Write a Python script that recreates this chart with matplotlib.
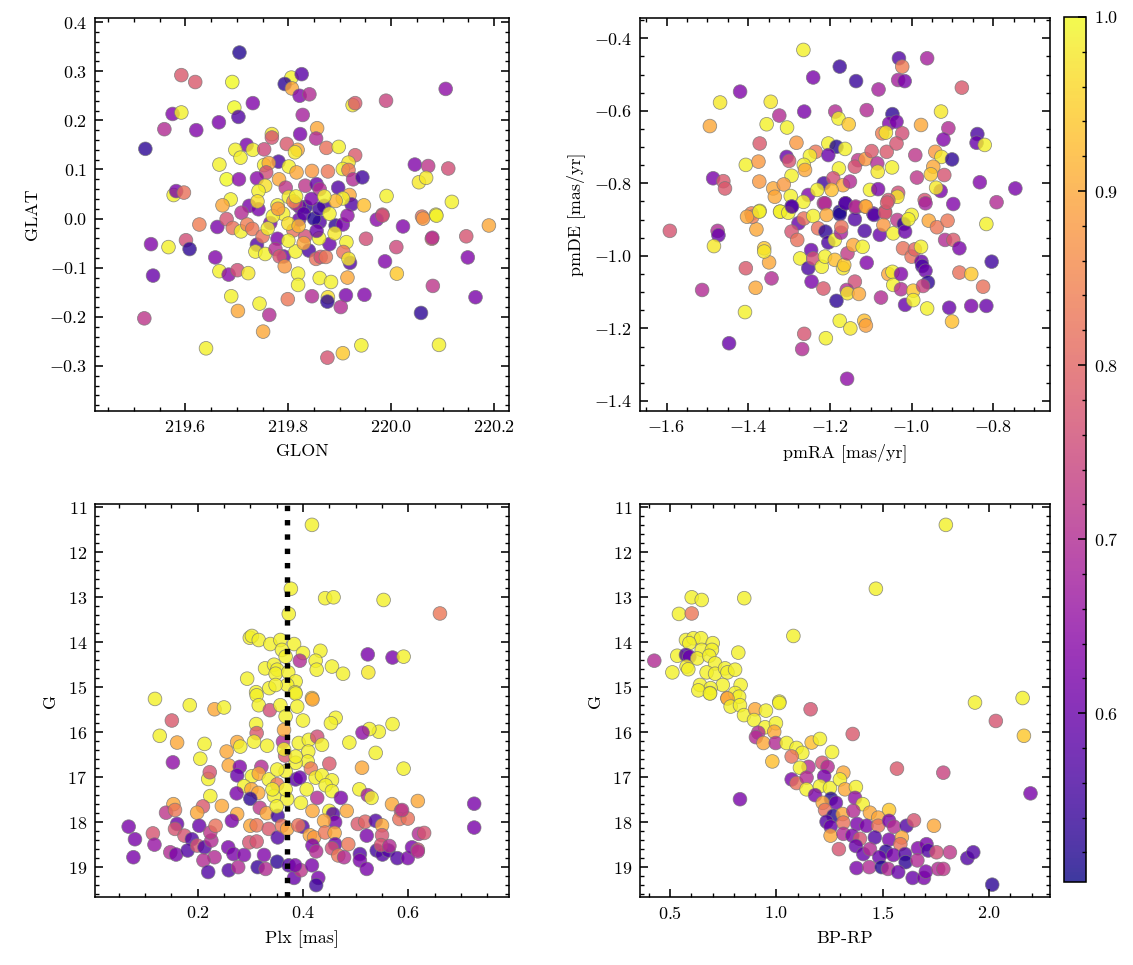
import numpy as np
import matplotlib
matplotlib.use('Agg')
import matplotlib.pyplot as plt
from matplotlib.colors import Normalize

# --- sky positions (GLON, GLAT, membership prob.) ---
glon = [
    219.705, 219.592, 219.619, 219.691, 219.806, 219.826, 219.793, 219.807, 219.822, 219.841,
    220.106, 219.925, 219.930, 219.990, 219.575, 219.592, 219.559, 219.621, 219.665, 219.695,
    219.703, 219.731, 219.828, 219.823, 219.768, 219.768, 219.856, 219.854, 219.522, 219.719,
    219.697, 219.731, 219.753, 219.707, 219.797, 219.818, 219.813, 219.874, 219.898, 219.930,
    219.917, 219.666, 219.781, 219.801, 219.753, 219.762, 219.757, 219.816, 219.846, 219.877,
    219.906, 219.917, 219.926, 219.944, 220.046, 220.072, 220.111, 220.054, 220.068, 219.680,
    219.704, 219.739, 219.755, 219.742, 219.782, 219.795, 219.833, 219.855, 219.861, 219.897,
    219.919, 219.923, 219.947, 219.991, 220.118, 219.577, 219.582, 219.597, 219.688, 219.672,
    219.724, 219.742, 219.834, 219.870, 219.822, 219.779, 219.801, 219.815, 219.906, 219.892,
    220.087, 219.983, 220.060,
    219.627, 219.662, 219.680, 219.692, 219.708, 219.709, 219.720, 219.730, 219.533, 219.567,
    219.601, 219.608, 219.658, 219.537, 219.666, 219.684, 219.701, 219.722, 219.739, 219.736,
    219.755, 219.750, 219.765, 219.779, 219.775, 219.791, 219.783, 219.793, 219.814, 219.810,
    219.821, 219.833, 219.840, 219.854, 219.863, 219.873, 219.861, 219.880, 219.892, 219.906,
    219.913, 219.907, 219.920, 219.917, 219.915, 219.951, 219.972, 219.983, 220.023, 220.062,
    220.088, 220.079, 220.080, 220.146, 220.190, 220.010, 219.988, 220.149, 220.011, 220.081,
    220.164, 219.819, 219.819, 219.861, 219.883, 219.915, 219.689, 219.702, 219.744, 219.763,
    219.799, 219.846, 219.877, 219.876, 219.912, 219.948, 219.902, 220.058, 219.520, 219.640,
    219.751, 219.876, 219.906, 219.942, 220.093,
    219.790, 219.800, 219.770, 219.830, 219.850, 219.860, 219.820, 219.880, 219.890, 219.760,
    219.810, 219.845, 219.870, 219.740, 219.800, 219.830, 219.860, 219.855, 219.780, 219.815]
glat = [
    0.338, 0.292, 0.278, 0.278, 0.287, 0.294, 0.274, 0.265, 0.250, 0.253,
    0.264, 0.231, 0.235, 0.240, 0.213, 0.216, 0.182, 0.180, 0.196, 0.226,
    0.207, 0.235, 0.211, 0.172, 0.172, 0.165, 0.184, 0.163, 0.142, 0.150,
    0.140, 0.140, 0.141, 0.124, 0.152, 0.140, 0.135, 0.144, 0.146, 0.129,
    0.114, 0.110, 0.116, 0.106, 0.109, 0.113, 0.094, 0.094, 0.097, 0.096,
    0.101, 0.099, 0.080, 0.084, 0.110, 0.107, 0.102, 0.074, 0.083, 0.080,
    0.080, 0.082, 0.067, 0.056, 0.080, 0.063, 0.067, 0.070, 0.060, 0.063,
    0.048, 0.029, 0.027, 0.046, 0.034, 0.048, 0.056, 0.053, 0.039, 0.027,
    0.026, 0.019, 0.024, 0.026, 0.024, 0.027, 0.044, 0.030, 0.041, 0.036,
    0.008, 0.008, 0.004,
    -0.012, -0.017, -0.001, -0.019, -0.026, 0.012, -0.012, -0.021, -0.052, -0.058,
    -0.044, -0.062, -0.079, -0.116, -0.107, -0.114, -0.105, -0.111, -0.053, -0.067,
    -0.072, -0.036, -0.009, -0.041, -0.062, -0.077, -0.077, -0.097, -0.067, -0.024,
    -0.002, -0.036, -0.065, -0.082, -0.078, -0.078, -0.007, -0.052, -0.014, -0.012,
    -0.048, -0.068, -0.090, -0.082, 0.006, -0.041, -0.002, 0.006, -0.016, 0.000,
    0.006, -0.041, -0.039, -0.036, -0.014, -0.058, -0.087, -0.079, -0.112, -0.137,
    -0.160, -0.112, -0.135, -0.121, -0.129, -0.120, -0.158, -0.188, -0.173, -0.196,
    -0.164, -0.158, -0.160, -0.169, -0.156, -0.155, -0.180, -0.192, -0.203, -0.264,
    -0.230, -0.283, -0.274, -0.258, -0.257,
    0.010, -0.010, 0.005, 0.010, 0.000, 0.020, -0.015, 0.010, -0.030, -0.020,
    0.035, 0.040, 0.045, 0.035, -0.045, -0.050, -0.040, -0.025, 0.020, 0.045]
prob_sky = [
    0.52, 0.78, 0.78, 1.00, 0.99, 0.58, 0.53, 0.90, 0.63, 0.70,
    0.65, 0.98, 0.78, 0.74, 0.63, 0.99, 0.70, 0.63, 0.62, 1.00,
    0.57, 0.63, 0.68, 0.62, 0.98, 0.77, 0.90, 0.70, 0.53, 0.62,
    0.99, 0.99, 0.75, 0.99, 0.78, 0.90, 0.98, 0.82, 0.99, 0.78,
    0.98, 0.99, 0.56, 0.99, 0.99, 0.90, 0.76, 0.90, 0.88, 0.83,
    0.99, 0.83, 0.70, 0.55, 0.63, 0.72, 0.76, 0.98, 0.98, 1.00,
    0.64, 0.64, 0.97, 0.99, 0.90, 0.72, 0.72, 0.60, 0.70, 0.57,
    0.90, 0.57, 0.93, 0.99, 0.99, 0.99, 0.62, 0.82, 0.99, 0.90,
    0.62, 0.62, 0.53, 0.56, 0.60, 0.99, 0.99, 0.70, 0.99, 0.92,
    0.99, 0.78, 0.82,
    0.84, 0.62, 0.77, 0.82, 0.99, 0.70, 0.84, 0.83, 0.63, 0.99,
    0.76, 0.53, 0.63, 0.60, 0.99, 0.64, 0.76, 0.98, 0.57, 0.99,
    0.99, 0.82, 0.62, 0.62, 0.70, 0.60, 0.78, 0.88, 0.99, 0.82,
    0.60, 0.76, 0.56, 0.82, 0.76, 0.83, 0.57, 0.60, 0.53, 0.62,
    0.99, 0.82, 0.57, 0.98, 0.65, 0.76, 0.64, 0.76, 0.63, 0.88,
    0.99, 0.82, 0.70, 0.77, 0.90, 0.75, 0.63, 0.63, 0.94, 0.72,
    0.62, 0.99, 0.99, 0.99, 0.99, 0.90, 0.99, 0.90, 0.99, 0.70,
    0.83, 0.70, 0.97, 0.53, 0.62, 0.63, 0.70, 0.53, 0.72, 0.99,
    0.90, 0.77, 0.94, 0.99, 0.99,
    0.99, 0.97, 0.99, 0.58, 0.52, 0.55, 0.92, 0.99, 0.98, 0.99,
    0.85, 0.62, 0.99, 0.97, 0.99, 0.90, 0.99, 0.60, 0.88, 0.99]

# --- proper motions ---
pmra = [
    -1.265, -1.031, -1.023, -0.962, -1.176, -1.241, -1.136, -1.081, -1.033, -1.017,
    -0.877, -1.420, -1.469, -1.345, -1.494, -1.324, -1.355, -1.305, -1.263, -1.187,
    -1.179, -1.154, -1.110, -1.047, -1.055, -1.037, -1.023, -1.072, -1.063, -0.928,
    -0.977, -0.910, -0.922, -0.839, -0.841, -0.821, -1.372, -1.282, -1.406, -1.375,
    -1.294, -1.306, -1.300, -1.235, -1.204, -1.184, -1.163, -1.204, -1.249, -1.264,
    -1.261, -1.178, -1.131, -1.139, -1.113, -1.098, -1.084, -1.083, -1.061, -1.048,
    -1.037, -0.991, -0.942, -0.927, -0.901, -0.947, -0.953, -0.920, -0.987, -0.833,
    -0.746, -1.486, -1.461, -1.457, -1.373, -1.339, -1.335, -1.313, -1.296, -1.215,
    -1.192, -1.168, -1.151, -1.196, -1.253, -1.231, -1.102, -1.082, -1.033, -1.035,
    -1.057, -0.929, -0.940, -0.968, -0.966, -0.898, -0.792, -1.372, -1.294, -1.265,
    -1.215, -1.176, -1.162, -1.137, -1.114, -1.094, -1.065, -1.000, -1.392, -1.322,
    -1.592, -1.475, -1.473, -1.484, -1.513, -1.447, -1.408, -1.406, -1.382, -1.343,
    -1.349, -1.361, -1.361, -1.380, -1.390, -1.403, -1.373, -1.322, -1.302, -1.293,
    -1.277, -1.294, -1.280, -1.264, -1.241, -1.273, -1.253, -1.246, -1.241, -1.220,
    -1.245, -1.216, -1.229, -1.211, -1.204, -1.188, -1.212, -1.188, -1.168, -1.165,
    -1.157, -1.212, -1.208, -1.176, -1.162, -1.173, -1.172, -1.139, -1.137, -1.112,
    -1.143, -1.120, -1.115, -1.092, -1.078, -1.065, -1.069, -1.045, -1.035, -1.110,
    -1.139, -1.159, -1.157, -1.129, -1.184, -1.176, -1.150, -1.116, -1.112, -1.075,
    -1.057, -1.047, -1.045, -1.026, -1.026, -1.016, -0.996, -0.996, -0.962, -1.021,
    -1.000, -0.992, -0.977, -0.976, -0.974, -0.966, -0.960, -0.972, -1.019, -1.016,
    -1.008, -0.958, -0.938, -0.912, -0.918, -0.898, -0.883, -0.908, -0.901, -0.883,
    -0.854, -0.854, -0.825, -0.817, -0.804, -0.817, -1.263, -1.268, -1.210, -1.158,
    -1.060]
pmde = [
    -0.432, -0.455, -0.478, -0.455, -0.478, -0.508, -0.518, -0.541, -0.515, -0.518,
    -0.536, -0.547, -0.577, -0.575, -0.642, -0.613, -0.637, -0.646, -0.602, -0.602,
    -0.621, -0.637, -0.598, -0.609, -0.635, -0.630, -0.662, -0.662, -0.660, -0.602,
    -0.639, -0.648, -0.679, -0.664, -0.688, -0.694, -0.690, -0.688, -0.749, -0.740,
    -0.779, -0.727, -0.738, -0.713, -0.690, -0.699, -0.705, -0.722, -0.724, -0.749,
    -0.763, -0.759, -0.736, -0.754, -0.733, -0.711, -0.745, -0.768, -0.713, -0.756,
    -0.690, -0.722, -0.713, -0.727, -0.734, -0.754, -0.775, -0.777, -0.784, -0.797,
    -0.814, -0.786, -0.794, -0.814, -0.795, -0.814, -0.837, -0.803, -0.835, -0.800,
    -0.786, -0.805, -0.795, -0.818, -0.832, -0.818, -0.818, -0.816, -0.826, -0.837,
    -0.846, -0.821, -0.812, -0.846, -0.855, -0.857, -0.852, -0.876, -0.864, -0.851,
    -0.855, -0.878, -0.855, -0.867, -0.864, -0.883, -0.878, -0.887, -0.883, -0.878,
    -0.931, -0.931, -0.943, -0.973, -1.094, -1.241, -1.155, -1.034, -1.088, -1.062,
    -1.018, -0.979, -0.988, -0.927, -0.892, -0.892, -0.878, -0.878, -0.881, -0.864,
    -0.910, -0.933, -0.956, -0.897, -0.890, -1.007, -1.034, -0.984, -1.007, -1.030,
    -1.071, -1.090, -0.924, -0.933, -0.963, -0.956, -1.002, -1.011, -1.034, -1.025,
    -0.993, -0.855, -0.887, -0.885, -0.855, -0.936, -0.920, -0.899, -0.864, -0.864,
    -0.970, -0.975, -0.931, -0.887, -0.942, -0.881, -0.915, -0.938, -0.901, -1.019,
    -1.071, -1.094, -1.103, -1.105, -1.124, -1.179, -1.200, -1.179, -1.192, -1.115,
    -1.050, -1.044, -1.080, -1.050, -1.092, -1.135, -1.096, -1.122, -1.145, -0.979,
    -1.002, -0.982, -0.975, -1.016, -1.028, -1.041, -1.073, -1.083, -0.912, -0.933,
    -0.899, -0.903, -0.921, -0.903, -0.956, -0.956, -0.979, -1.143, -1.181, -1.046,
    -1.050, -1.138, -1.085, -1.138, -1.016, -0.912, -1.215, -1.257, -1.227, -1.339,
    -0.853]
prob_pm = [
    0.99, 0.57, 0.84, 0.68, 0.54, 0.62, 0.54, 0.68, 0.68, 0.62,
    0.78, 0.63, 0.98, 0.98, 0.90, 0.70, 0.99, 0.99, 0.62, 0.70,
    0.99, 0.94, 0.70, 0.53, 0.63, 0.62, 0.76, 0.84, 0.98, 0.98,
    0.90, 0.70, 0.63, 0.56, 0.60, 0.99, 0.78, 0.88, 0.99, 0.88,
    0.99, 0.60, 0.77, 0.83, 0.99, 0.52, 0.99, 0.60, 0.99, 0.99,
    0.90, 0.99, 0.72, 0.77, 0.88, 0.78, 0.70, 0.98, 0.78, 0.99,
    0.77, 0.72, 0.88, 0.98, 0.53, 0.90, 0.94, 0.77, 0.72, 0.63,
    0.62, 0.62, 0.78, 0.78, 0.88, 0.90, 0.90, 0.88, 0.99, 0.55,
    0.76, 0.90, 0.70, 0.93, 0.63, 0.99, 0.99, 0.62, 0.76, 0.98,
    0.77, 0.62, 0.98, 0.77, 0.68, 0.63, 0.70, 0.99, 0.57, 0.99,
    0.70, 0.52, 0.57, 0.70, 0.90, 0.60, 0.77, 0.99, 0.84, 0.99,
    0.77, 0.70, 0.60, 0.98, 0.70, 0.60, 0.99, 0.78, 0.90, 0.70,
    0.90, 0.94, 0.98, 0.90, 0.84, 0.90, 0.99, 0.99, 0.99, 0.57,
    0.60, 0.77, 0.82, 0.82, 0.99, 0.99, 0.56, 0.60, 0.76, 0.99,
    0.62, 0.78, 0.82, 0.53, 0.56, 0.99, 0.99, 0.93, 0.98, 0.94,
    0.73, 0.70, 0.90, 0.52, 0.57, 0.68, 0.82, 0.57, 0.70, 0.90,
    0.90, 0.99, 0.56, 0.57, 0.60, 0.77, 0.88, 0.99, 0.72, 0.63,
    0.76, 0.70, 0.98, 0.90, 0.53, 0.99, 0.98, 0.93, 0.89, 0.70,
    0.90, 0.99, 0.99, 0.63, 0.70, 0.60, 0.94, 0.99, 0.99, 0.82,
    0.82, 0.80, 0.99, 0.60, 0.56, 0.60, 0.53, 0.74, 0.53, 0.60,
    0.99, 0.90, 0.83, 0.83, 0.70, 0.78, 0.62, 0.60, 0.93, 0.82,
    0.94, 0.62, 0.82, 0.60, 0.55, 0.99, 0.77, 0.70, 0.99, 0.65,
    0.78]

# --- parallax vs G ---
plx = [
    0.417, 0.377, 0.442, 0.458, 0.553, 0.660, 0.373, 0.299, 0.303, 0.316,
    0.338, 0.357, 0.383, 0.360, 0.433, 0.400, 0.394, 0.367, 0.424, 0.455,
    0.476, 0.426, 0.523, 0.570, 0.591, 0.524, 0.328, 0.345, 0.351, 0.348,
    0.372, 0.294, 0.386, 0.336, 0.370, 0.311, 0.385, 0.348, 0.119, 0.417,
    0.185, 0.232, 0.250, 0.312, 0.316, 0.337, 0.357, 0.386, 0.389, 0.418,
    0.367, 0.400, 0.462, 0.453, 0.570, 0.544, 0.526, 0.513, 0.151, 0.128,
    0.161, 0.153, 0.213, 0.205, 0.255, 0.275, 0.281, 0.311, 0.312, 0.307,
    0.332, 0.362, 0.364, 0.366, 0.392, 0.411, 0.427, 0.436, 0.410, 0.409,
    0.386, 0.488, 0.538, 0.450, 0.415, 0.512, 0.591, 0.220, 0.223, 0.259,
    0.280, 0.275, 0.321, 0.303, 0.316, 0.335, 0.351, 0.288, 0.302, 0.315,
    0.345, 0.370, 0.386, 0.394, 0.407, 0.424, 0.436, 0.455, 0.443, 0.455,
    0.427, 0.396, 0.224, 0.274, 0.300, 0.318, 0.331, 0.352, 0.350, 0.418,
    0.450, 0.457, 0.461, 0.483, 0.472, 0.507, 0.523, 0.530, 0.569, 0.586,
    0.618, 0.725, 0.725, 0.154, 0.140, 0.157, 0.210, 0.199, 0.246, 0.275,
    0.265, 0.069, 0.081, 0.078, 0.115, 0.118, 0.148, 0.159, 0.161, 0.157,
    0.175, 0.189, 0.181, 0.203, 0.199, 0.213, 0.226, 0.224, 0.234, 0.232,
    0.211, 0.220, 0.258, 0.268, 0.259, 0.288, 0.277, 0.298, 0.312, 0.300,
    0.312, 0.335, 0.352, 0.326, 0.314, 0.329, 0.351, 0.360, 0.370, 0.373,
    0.383, 0.396, 0.385, 0.399, 0.391, 0.413, 0.421, 0.418, 0.425, 0.417,
    0.429, 0.425, 0.440, 0.442, 0.460, 0.461, 0.455, 0.467, 0.478, 0.486,
    0.504, 0.518, 0.538, 0.550, 0.521, 0.550, 0.508, 0.508, 0.521, 0.540,
    0.551, 0.562, 0.548, 0.579, 0.599, 0.607, 0.618, 0.618, 0.564, 0.583,
    0.599, 0.588, 0.620, 0.630,
    0.367, 0.342, 0.367, 0.386, 0.351, 0.364]
g_plx = [
    11.39, 12.81, 13.02, 13.00, 13.06, 13.36, 13.37, 13.90, 13.86, 13.95,
    14.04, 13.95, 14.04, 14.17, 14.19, 14.24, 14.41, 14.32, 14.41, 14.54,
    14.70, 14.61, 14.27, 14.34, 14.32, 14.67, 14.58, 14.50, 14.61, 14.70,
    14.67, 14.81, 14.87, 15.02, 14.95, 15.11, 15.11, 14.95, 15.26, 15.24,
    15.40, 15.49, 15.45, 15.18, 15.40, 15.51, 15.40, 15.14, 15.43, 15.27,
    15.65, 15.74, 15.68, 15.80, 15.82, 15.99, 15.93, 16.01, 15.74, 16.08,
    16.23, 16.67, 16.26, 16.59, 16.43, 16.22, 16.32, 15.82, 16.02, 16.21,
    16.30, 16.21, 15.95, 16.52, 16.24, 16.17, 16.10, 16.28, 16.43, 16.65,
    16.68, 16.23, 16.46, 16.70, 16.81, 16.79, 16.81, 17.04, 16.89, 16.74,
    16.77, 16.96, 16.77, 16.98, 16.92, 17.05, 17.16, 17.20, 17.27, 17.35,
    17.42, 17.49, 17.05, 17.01, 17.27, 17.01, 16.96, 17.07, 17.18, 17.31,
    17.46, 17.57, 17.42, 17.36, 17.48, 17.68, 17.80, 17.86, 17.65, 17.75,
    17.75, 17.82, 18.00, 17.75, 17.46, 17.27, 17.40, 17.46, 17.60, 17.75,
    17.53, 17.59, 18.12, 17.60, 17.79, 17.73, 17.65, 17.79, 17.64, 17.82,
    17.97, 18.10, 18.38, 18.78, 18.25, 18.50, 18.67, 18.72, 18.04, 18.15,
    18.30, 18.38, 18.63, 18.08, 18.52, 18.56, 18.41, 18.23, 18.08, 18.78,
    18.85, 19.11, 18.56, 18.71, 19.07, 18.73, 19.00, 18.45, 18.43, 18.08,
    18.07, 18.15, 18.34, 18.73, 19.00, 19.04, 18.88, 18.08, 18.15, 18.96,
    19.24, 19.07, 18.96, 18.10, 18.07, 18.29, 18.34, 18.52, 18.65, 18.96,
    19.24, 19.40, 17.97, 18.23, 18.24, 18.49, 18.58, 18.74, 18.78, 18.49,
    18.04, 17.99, 17.97, 18.07, 18.30, 18.29, 18.71, 18.85, 19.04, 18.63,
    18.72, 18.63, 18.51, 18.80, 18.80, 18.56, 18.61, 18.65, 18.53, 17.93,
    17.92, 17.73, 18.26, 18.24,
    17.27, 17.27, 16.87, 16.54, 16.83, 16.38]
prob_plx = [
    0.99, 0.99, 0.99, 0.99, 0.99, 0.83, 0.99, 0.99, 0.99, 0.99,
    0.99, 0.99, 0.99, 0.99, 0.99, 0.99, 0.70, 0.99, 0.99, 0.99,
    0.99, 0.99, 0.62, 0.62, 0.99, 0.98, 0.99, 0.99, 0.99, 0.99,
    0.99, 0.99, 0.99, 0.99, 0.99, 0.99, 0.99, 0.99, 0.99, 0.94,
    0.99, 0.90, 0.99, 0.99, 0.99, 0.76, 0.99, 0.99, 0.99, 0.90,
    0.99, 0.99, 0.99, 0.99, 0.99, 0.99, 0.99, 0.65, 0.78, 0.99,
    0.90, 0.65, 0.99, 0.99, 0.90, 0.90, 0.99, 0.99, 0.78, 0.99,
    0.99, 0.70, 0.90, 0.78, 0.99, 0.99, 0.76, 0.99, 0.99, 0.99,
    0.99, 0.99, 0.99, 0.78, 0.83, 0.90, 0.99, 0.99, 0.77, 0.90,
    0.63, 0.60, 0.70, 0.99, 0.90, 0.99, 0.83, 0.99, 0.90, 0.90,
    0.99, 0.99, 0.58, 0.60, 0.99, 0.99, 0.99, 0.99, 0.99, 0.99,
    0.70, 0.99, 0.99, 0.62, 0.53, 0.72, 0.90, 0.55, 0.99, 0.90,
    0.99, 0.57, 0.62, 0.90, 0.62, 0.99, 0.68, 0.99, 0.90, 0.76,
    0.90, 0.62, 0.62, 0.90, 0.72, 0.83, 0.78, 0.90, 0.90, 0.90,
    0.62, 0.62, 0.62, 0.62, 0.77, 0.66, 0.70, 0.62, 0.60, 0.77,
    0.77, 0.57, 0.57, 0.60, 0.77, 0.57, 0.70, 0.72, 0.82, 0.70,
    0.70, 0.57, 0.62, 0.62, 0.57, 0.63, 0.70, 0.77, 0.77, 0.90,
    0.83, 0.78, 0.57, 0.63, 0.54, 0.70, 0.53, 0.83, 0.90, 0.57,
    0.60, 0.72, 0.62, 0.57, 0.82, 0.90, 0.88, 0.62, 0.70, 0.62,
    0.62, 0.55, 0.90, 0.83, 0.90, 0.60, 0.76, 0.83, 0.70, 0.83,
    0.78, 0.80, 0.57, 0.90, 0.62, 0.77, 0.57, 0.62, 0.62, 0.55,
    0.57, 0.57, 0.77, 0.57, 0.62, 0.62, 0.77, 0.70, 0.70, 0.82,
    0.82, 0.72, 0.70, 0.77,
    0.99, 0.99, 0.99, 0.99, 0.99, 0.99]
plx_line = 0.37

# --- colour-magnitude diagram ---
bp_rp = [
    1.797, 1.468, 0.602, 0.649, 0.849, 0.542, 0.602, 1.080, 0.575, 0.610,
    0.646, 0.701, 0.591, 0.649, 0.697, 0.821, 0.534, 0.575, 0.591, 0.426,
    0.628, 0.684, 0.712, 0.511, 0.578, 0.586, 0.672, 0.712, 0.759, 0.770,
    0.806, 0.748, 0.641, 0.691, 0.832, 0.688, 0.770, 0.806, 0.825, 1.014,
    1.934, 2.158,
    0.633, 0.688, 0.770, 0.785, 0.829, 0.848, 0.900, 0.951, 1.014, 1.161,
    0.895, 0.947, 0.998, 0.990, 0.915, 0.904, 0.939, 0.997, 1.048, 1.095,
    1.122, 1.166, 1.205, 1.262, 1.072, 0.981, 1.359, 1.151, 1.111, 1.216,
    1.241, 1.072, 1.095, 1.142, 1.225, 1.142, 1.205, 1.252, 1.315, 1.299,
    1.323, 1.374, 1.182, 1.257, 1.218, 1.280, 1.370, 1.406, 1.567, 1.785,
    0.829, 1.530, 1.229, 1.268, 1.312, 1.362, 1.440, 1.479, 1.236, 1.255,
    1.315, 1.380, 1.424, 1.479, 1.530, 1.553, 1.612, 1.647, 1.741, 1.255,
    1.315, 1.357, 1.393, 1.463, 1.530, 1.590, 1.583, 1.374, 1.294, 1.409,
    1.440, 1.515, 1.484, 1.550, 1.605, 1.608, 1.666, 1.706, 1.714, 1.753,
    1.816, 1.663, 1.377, 1.437, 1.495, 1.525, 1.573, 1.641, 1.694, 1.703,
    1.761, 1.785, 1.898, 1.926, 2.015, 2.032, 2.164, 2.195]
g_cmd = [
    11.39, 12.81, 13.00, 13.06, 13.02, 13.37, 13.36, 13.86, 13.95, 13.91,
    13.91, 14.02, 14.02, 14.17, 14.17, 14.23, 14.30, 14.28, 14.32, 14.41,
    14.36, 14.30, 14.47, 14.67, 14.54, 14.60, 14.67, 14.70, 14.58, 14.67,
    14.61, 14.95, 14.95, 15.02, 14.95, 15.13, 15.24, 15.13, 15.21, 15.32,
    15.34, 15.24,
    15.07, 15.14, 15.25, 15.43, 15.40, 15.62, 15.49, 15.52, 15.35, 15.49,
    15.73, 15.89, 15.80, 15.99, 16.01, 16.11, 16.24, 16.24, 16.24, 16.35,
    16.46, 16.23, 16.15, 16.44, 16.54, 16.65, 16.04, 16.77, 16.79, 16.68,
    16.77, 17.05, 17.13, 17.01, 16.98, 17.27, 17.20, 17.24, 16.90, 17.05,
    17.27, 17.22, 17.40, 17.48, 17.57, 17.57, 17.46, 17.60, 16.81, 16.90,
    17.49, 17.73, 17.73, 17.86, 17.82, 17.75, 17.79, 17.90, 17.99, 18.10,
    18.01, 18.04, 18.08, 18.08, 17.97, 18.10, 18.08, 17.96, 18.08, 18.30,
    18.26, 18.30, 18.37, 18.34, 18.39, 18.34, 18.49, 18.53, 18.60, 18.71,
    18.60, 18.65, 18.78, 18.73, 18.71, 18.89, 18.58, 18.49, 18.63, 18.67,
    18.67, 18.85, 19.02, 19.00, 19.00, 19.04, 19.11, 19.24, 19.24, 19.10,
    19.04, 19.04, 18.80, 18.67, 19.39, 15.75, 16.08, 17.36]
prob_cmd = [
    0.99, 0.99, 0.99, 0.99, 0.99, 0.99, 0.83, 0.99, 0.99, 0.99,
    0.99, 0.99, 0.99, 0.99, 0.99, 0.99, 0.99, 0.56, 0.60, 0.70,
    0.99, 0.99, 0.99, 0.99, 0.99, 0.99, 0.99, 0.99, 0.99, 0.99,
    0.99, 0.99, 0.99, 0.99, 0.99, 0.99, 0.90, 0.99, 0.99, 0.99,
    0.99, 0.99,
    0.99, 0.99, 0.90, 0.99, 0.99, 0.99, 0.90, 0.99, 0.99, 0.77,
    0.99, 0.99, 0.99, 0.90, 0.70, 0.70, 0.90, 0.70, 0.99, 0.99,
    0.99, 0.93, 0.99, 0.99, 0.82, 0.93, 0.78, 0.70, 0.99, 0.77,
    0.70, 0.62, 0.82, 0.70, 0.62, 0.99, 0.99, 0.99, 0.90, 0.99,
    0.90, 0.99, 0.62, 0.52, 0.90, 0.60, 0.65, 0.99, 0.78, 0.74,
    0.62, 0.94, 0.82, 0.52, 0.90, 0.70, 0.90, 0.90, 0.57, 0.60,
    0.82, 0.62, 0.62, 0.82, 0.62, 0.70, 0.57, 0.77, 0.90, 0.90,
    0.70, 0.62, 0.77, 0.57, 0.62, 0.90, 0.82, 0.60, 0.77, 0.60,
    0.70, 0.53, 0.60, 0.62, 0.57, 0.53, 0.63, 0.62, 0.57, 0.76,
    0.72, 0.70, 0.62, 0.70, 0.52, 0.70, 0.60, 0.60, 0.62, 0.62,
    0.70, 0.72, 0.57, 0.57, 0.53, 0.77, 0.94, 0.62]

cbar_ticks = [0.6, 0.7, 0.8, 0.9, 1.0]

# style: serif (computer modern), ticks inside on all sides
plt.rcParams.update({
    'font.family': 'serif',
    'font.serif': ['cmr10', 'DejaVu Serif'],
    'mathtext.fontset': 'cm',
    'axes.formatter.use_mathtext': True,
    'axes.unicode_minus': True,
    'font.size': 8,
    'axes.linewidth': 0.7,
    'xtick.direction': 'in', 'ytick.direction': 'in',
    'xtick.top': True, 'ytick.right': True,
    'xtick.minor.visible': True, 'ytick.minor.visible': True,
    'xtick.major.size': 3.5, 'ytick.major.size': 3.5,
    'xtick.minor.size': 1.8, 'ytick.minor.size': 1.8,
    'xtick.major.width': 0.7, 'ytick.major.width': 0.7,
    'xtick.minor.width': 0.6, 'ytick.minor.width': 0.6,
})

fig = plt.figure(figsize=(1133 / 162, 965 / 162), dpi=162)
ax1 = fig.add_axes([0.0838, 0.5744, 0.3654, 0.4073])
ax2 = fig.add_axes([0.5649, 0.5744, 0.3619, 0.4073])
ax3 = fig.add_axes([0.0838, 0.0702, 0.3654, 0.4078])
ax4 = fig.add_axes([0.5649, 0.0702, 0.3619, 0.4078])
cax = fig.add_axes([0.9391, 0.0860, 0.0194, 0.8964])

norm = Normalize(vmin=0.503, vmax=1.0)
kw = dict(cmap='plasma', norm=norm, s=37, alpha=0.8, edgecolors='#777777', linewidths=0.35)

ax1.scatter(glon, glat, c=prob_sky, **kw)
ax1.set_xlim(219.424, 220.229)
ax1.set_ylim(-0.391, 0.409)
ax1.set_xticks([219.6, 219.8, 220.0, 220.2])
ax1.set_xlabel('GLON')
ax1.set_ylabel('GLAT')

ax2.scatter(pmra, pmde, c=prob_pm, **kw)
ax2.set_xlim(-1.665, -0.661)
ax2.set_ylim(-1.427, -0.343)
ax2.set_xlabel('pmRA [mas/yr]')
ax2.set_ylabel('pmDE [mas/yr]')

ax3.scatter(plx, g_plx, c=prob_plx, **kw)
ax3.axvline(plx_line, color='k', ls=':', lw=2.4)
ax3.set_xlim(0.005, 0.791)
ax3.set_ylim(19.67, 10.92)
ax3.set_xticks([0.2, 0.4, 0.6])
ax3.set_yticks(range(11, 20))
ax3.set_xlabel('Plx [mas]')
ax3.set_ylabel('G')

sc = ax4.scatter(bp_rp, g_cmd, c=prob_cmd, **kw)
ax4.set_xlim(0.359, 2.287)
ax4.set_ylim(19.67, 10.92)
ax4.set_yticks(range(11, 20))
ax4.set_xlabel('BP-RP')
ax4.set_ylabel('G')

cb = fig.colorbar(sc, cax=cax, ticks=cbar_ticks)
cb.outline.set_linewidth(0.7)
cax.minorticks_on()
cax.tick_params(which='both', direction='in')

fig.savefig('out.png', dpi=162)
